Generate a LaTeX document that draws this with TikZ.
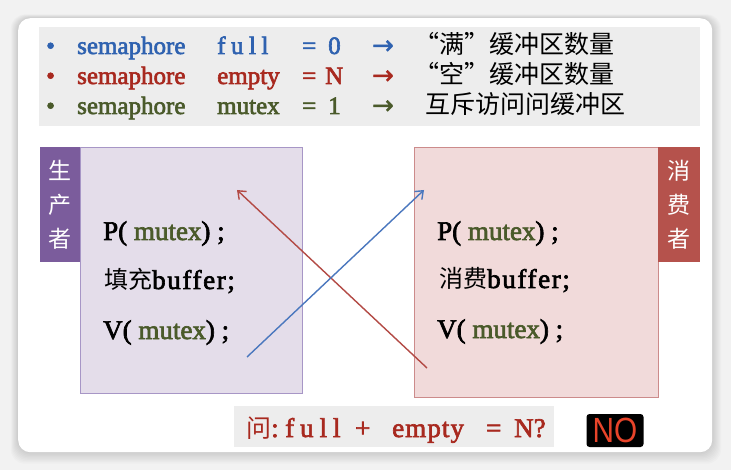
\documentclass[tikz,border=0pt]{standalone}
\usepackage{fontspec}
\setmainfont{Liberation Serif}[RawFeature={embolden=2.4}]
\newfontfamily\cjk{Noto Sans CJK SC}
\newfontfamily\symf{DejaVu Sans}[RawFeature={embolden=1.5}]
\newfontfamily\nofont{Liberation Sans}
\usetikzlibrary{arrows.meta}
\definecolor{bgc}{HTML}{F2F2F2}
\definecolor{boxgray}{HTML}{EDEDED}
\definecolor{cblue}{HTML}{2F62B0}
\definecolor{cred}{HTML}{A8291F}
\definecolor{cgreen}{HTML}{4A5A2A}
\definecolor{pfill}{HTML}{E4DDEA}
\definecolor{pborder}{HTML}{A796C6}
\definecolor{plabel}{HTML}{7B5C9C}
\definecolor{rfill}{HTML}{F1DADA}
\definecolor{rborder}{HTML}{CC8B8B}
\definecolor{rlabel}{HTML}{B5524C}
\definecolor{arred}{HTML}{B34A45}
\definecolor{arblue}{HTML}{4A77BE}
\definecolor{nored}{HTML}{E8442A}
\tikzset{
  txt/.style={inner sep=0pt, anchor=base west, font=\fontsize{25}{28}\selectfont},
  qtxt/.style={inner sep=0pt, anchor=base west, text=cred, font=\fontsize{27}{30}\selectfont},
  zh/.style={inner sep=0pt, anchor=base west, font=\cjk\fontsize{25}{28}\selectfont},
  arr/.style={inner sep=0pt, anchor=base west, font=\symf\fontsize{26}{28}\selectfont},
  codetxt/.style={inner sep=0pt, anchor=base west, font=\fontsize{27}{30}\selectfont},
  lbl/.style={inner sep=0pt, text=white, align=center, font=\cjk\fontsize{23}{34}\selectfont},
  conn/.style={line width=1.4pt, -{Straight Barb[length=7pt,width=11pt]}},
}
\begin{document}
\begin{tikzpicture}[x=1pt,y=-1pt]
\useasboundingbox (0,0) rectangle (731,470);
\fill[bgc] (0,0) rectangle (731,470);
% shadow
\foreach \i in {1,...,9}{
  \fill[black, opacity=0.014, rounded corners=14pt] (18-\i*0.8,18-\i*0.4) rectangle (712+\i,452+\i*1.3);
}
\node[fill=white, rounded corners=12pt, minimum width=694pt, minimum height=434pt, inner sep=0pt, anchor=north west] (card) at (18,18) {};
% top box
\node[fill=boxgray, minimum width=661pt, minimum height=99pt, inner sep=0pt, anchor=north west] (top) at (39,27) {};
% line 1
\node[txt, text=cblue] (b1) at (46,54) {•};
\node[txt, text=cblue] (n1) at (77,54) {semaphore};
\node[txt, text=cblue] (v1) at (217,54) {\addfontfeature{LetterSpace=22}full};
\node[txt, text=cblue] (e1) at (302,54) {=};
\node[txt, text=cblue] (w1) at (328,54) {0};
\node[arr, text=cblue] (a1) at (372,54) {→};
\node[zh] (c1) at (414,54) {“满”缓冲区数量};
% line 2
\node[txt, text=cred] (b2) at (46,84) {•};
\node[txt, text=cred] (n2) at (77,84) {semaphore};
\node[txt, text=cred] (v2) at (217,84) {empty};
\node[txt, text=cred] (e2) at (302,84) {=};
\node[txt, text=cred] (w2) at (325,84) {N};
\node[arr, text=cred] (a2) at (372,84) {→};
\node[zh] (c2) at (414,84) {“空”缓冲区数量};
% line 3
\node[txt, text=cgreen] (b3) at (46,114) {•};
\node[txt, text=cgreen] (n3) at (77,114) {semaphore};
\node[txt, text=cgreen] (v3) at (217,114) {mutex};
\node[txt, text=cgreen] (e3) at (302,114) {=};
\node[txt, text=cgreen] (w3) at (328,114) {1};
\node[arr, text=cgreen] (a3) at (372,114) {→};
\node[zh] (c3) at (425,114) {互斥访问问缓冲区};
% producer
\node[fill=pfill, draw=pborder, line width=0.8pt, minimum width=222pt, minimum height=246pt, inner sep=0pt, anchor=north west] (prod) at (80,147) {};
\node[fill=plabel, minimum width=40pt, minimum height=115pt, inner sep=0pt, anchor=north west] (plab) at (40,147) {};
\node[lbl] (plabt) at (plab.center) {生\\产\\者};
\node[codetxt] (p1) at (103,240) {P( \textcolor{cgreen}{mutex}) ;};
\node[codetxt] (p2) at (104,289) {{\cjk\fontsize{24}{28}\selectfont 填充}\addfontfeature{LetterSpace=6}buffer;};
\node[codetxt] (p3) at (103,339) {V( \textcolor{cgreen}{mutex}) ;};
% consumer
\node[fill=rfill, draw=rborder, line width=0.8pt, minimum width=244pt, minimum height=250pt, inner sep=0pt, anchor=north west] (cons) at (414,147) {};
\node[fill=rlabel, minimum width=42pt, minimum height=115pt, inner sep=0pt, anchor=north west] (clab) at (658,147) {};
\node[lbl] (clabt) at (clab.center) {消\\费\\者};
\node[codetxt] (q1) at (437,240) {P( \textcolor{cgreen}{mutex}) ;};
\node[codetxt] (q2) at (439,288) {{\cjk\fontsize{24}{28}\selectfont 消费}\addfontfeature{LetterSpace=6}buffer;};
\node[codetxt] (q3) at (437,338) {V( \textcolor{cgreen}{mutex}) ;};
% arrows
\coordinate (rs) at (427,368);
\coordinate (re) at (237,190);
\coordinate (bs) at (247,357);
\coordinate (be) at (424,190);
\draw[conn, arred] (rs) -- (re);
\draw[conn, arblue] (bs) -- (be);
% question
\node[fill=boxgray, minimum width=320pt, minimum height=41pt, inner sep=0pt, anchor=north west] (qbox) at (234,406) {};
\node[qtxt] (qt1) at (246,437) {{\cjk\fontsize{25}{28}\selectfont 问}:};
\node[qtxt] (qt2) at (285,437) {\addfontfeature{LetterSpace=22}full};
\node[qtxt] (qt3) at (355,437) {+};
\node[qtxt] (qt4) at (392,437) {\addfontfeature{LetterSpace=4}empty};
\node[qtxt] (qt5) at (486,437) {=};
\node[qtxt] (qt6) at (514,437) {N?};
\node[fill=black, rounded corners=3pt, minimum width=57pt, minimum height=33pt, inner sep=0pt, text=nored, font=\nofont\fontsize{35}{36}\selectfont] (no) at (615,430.5) {\raisebox{-1pt}{\scalebox{0.85}[1]{NO}}};
\end{tikzpicture}
\end{document}
